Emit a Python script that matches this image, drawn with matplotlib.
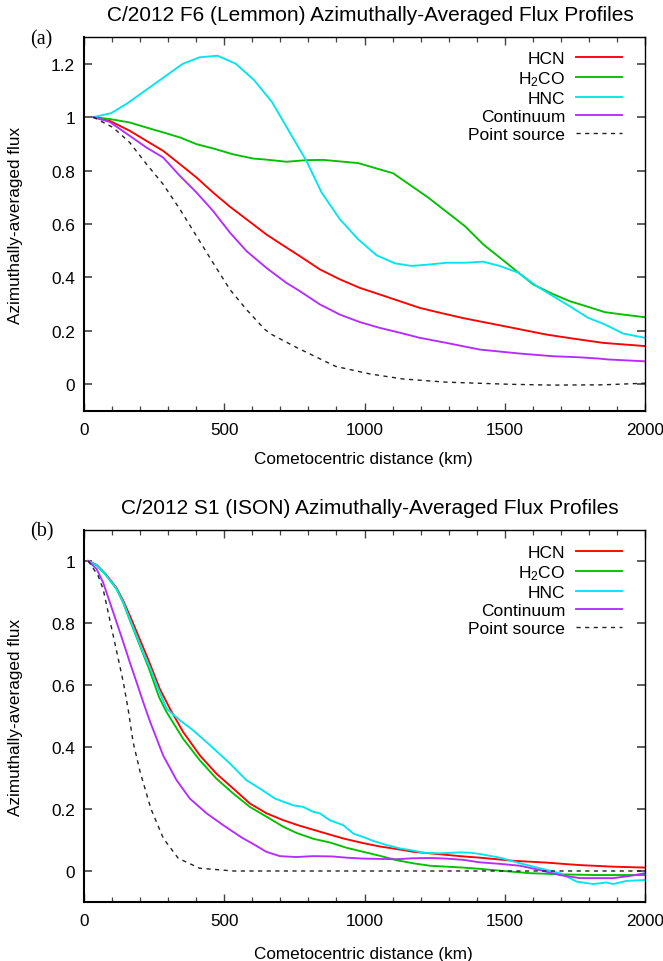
import matplotlib
matplotlib.use('Agg')
import matplotlib.pyplot as plt
from matplotlib.ticker import MultipleLocator, FixedLocator, FuncFormatter

plt.rcParams['font.family'] = ['Liberation Sans', 'DejaVu Sans']
plt.rcParams['mathtext.default'] = 'regular'

# ---------------- data: panel (a) C/2012 F6 (Lemmon) ----------------
hcn_a_km = [33, 92, 163, 223, 282, 342, 401, 460, 520, 579, 650, 698, 769, 841, 912, 983, 1055,
            1126, 1197, 1268, 1351, 1423, 1530, 1649, 1744, 1851, 2000]
hcn_a = [1.0, 0.986, 0.949, 0.911, 0.874, 0.824, 0.774, 0.718, 0.665, 0.618, 0.561, 0.528, 0.48,
         0.43, 0.393, 0.361, 0.336, 0.311, 0.286, 0.268, 0.248, 0.233, 0.211, 0.186, 0.171, 0.155, 0.143]

h2co_a_km = [33, 92, 163, 223, 282, 342, 401, 460, 531, 603, 650, 722, 793, 853, 977, 1102, 1227,
             1358, 1423, 1542, 1601, 1667, 1732, 1791, 1857, 1922, 2000]
h2co_a = [1.0, 0.993, 0.98, 0.961, 0.943, 0.924, 0.899, 0.883, 0.861, 0.845, 0.841, 0.833, 0.839,
          0.84, 0.828, 0.79, 0.699, 0.592, 0.524, 0.424, 0.374, 0.34, 0.311, 0.292, 0.27, 0.261, 0.251]

hnc_a_km = [33, 97, 155, 351, 412, 476, 541, 606, 670, 730, 793, 847, 912, 977, 1043, 1108, 1168,
            1227, 1292, 1358, 1423, 1482, 1548, 1613, 1672, 1732, 1797, 1857, 1922, 2000]
hnc_a = [1.0, 1.015, 1.052, 1.199, 1.224, 1.23, 1.2, 1.139, 1.057, 0.949, 0.836, 0.718, 0.618, 0.543,
         0.483, 0.453, 0.443, 0.448, 0.455, 0.455, 0.459, 0.443, 0.418, 0.368, 0.33, 0.292, 0.249,
         0.224, 0.19, 0.174]

cont_a_km = [33, 92, 163, 223, 282, 342, 401, 460, 520, 579, 650, 721, 769, 841, 912, 983, 1055,
             1126, 1197, 1292, 1411, 1554, 1672, 1767, 1839, 1867, 2000]
cont_a = [1.0, 0.982, 0.93, 0.886, 0.849, 0.78, 0.718, 0.649, 0.568, 0.499, 0.436, 0.38, 0.349, 0.299,
          0.261, 0.233, 0.211, 0.193, 0.174, 0.155, 0.13, 0.115, 0.105, 0.101, 0.096, 0.093, 0.086]

point_a_km = [33, 104, 163, 223, 282, 342, 401, 460, 520, 579, 645, 670, 761, 897, 1018, 1136, 1291,
              1518, 1670, 1850, 2000]
point_a = [1.0, 0.961, 0.905, 0.824, 0.749, 0.655, 0.555, 0.455, 0.355, 0.28, 0.205, 0.186, 0.136,
           0.067, 0.039, 0.02, 0.008, 0.0, -0.003, -0.002, 0.004]

# ---------------- data: panel (b) C/2012 S1 (ISON) ----------------
hcn_b_km = [15, 45, 80, 116, 140, 170, 200, 230, 270, 306, 353, 413, 472, 532, 591, 651, 710, 769,
            829, 924, 995, 1055, 1114, 1173, 1233, 1292, 1352, 1411, 1530, 1649, 1768, 1886, 2000]
hcn_b = [1.0, 0.987, 0.955, 0.913, 0.872, 0.81, 0.745, 0.68, 0.588, 0.524, 0.449, 0.373, 0.314, 0.266,
         0.218, 0.186, 0.164, 0.146, 0.13, 0.105, 0.09, 0.079, 0.071, 0.062, 0.057, 0.052, 0.047,
         0.043, 0.033, 0.027, 0.019, 0.014, 0.011]

h2co_b_km = [15, 45, 80, 116, 140, 163, 187, 211, 232, 268, 294, 353, 413, 472, 532, 591, 651, 710,
             757, 817, 877, 936, 995, 1055, 1114, 1173, 1233, 1292, 1352, 1411, 1483, 1589, 1708,
             1827, 2000]
h2co_b = [1.0, 0.987, 0.953, 0.91, 0.865, 0.81, 0.755, 0.70, 0.652, 0.56, 0.513, 0.427, 0.357, 0.298,
          0.25, 0.207, 0.175, 0.143, 0.123, 0.104, 0.092, 0.075, 0.062, 0.049, 0.035, 0.025, 0.017,
          0.014, 0.011, 0.007, 0.001, -0.007, -0.011, -0.013, -0.013]

hnc_b_km = [15, 45, 80, 116, 140, 163, 187, 211, 237, 259, 282, 294, 342, 389, 449, 520, 579, 627,
            680, 745, 781, 817, 841, 876, 924, 960, 1001, 1031, 1078, 1126, 1173, 1209, 1268, 1340,
            1376, 1411, 1483, 1554, 1625, 1696, 1756, 1815, 1863, 1886, 1934, 2000]
hnc_b = [1.0, 0.987, 0.953, 0.91, 0.867, 0.813, 0.76, 0.705, 0.652, 0.60, 0.55, 0.524, 0.486, 0.454,
         0.406, 0.347, 0.293, 0.266, 0.234, 0.212, 0.207, 0.191, 0.186, 0.164, 0.148, 0.121, 0.108,
         0.097, 0.084, 0.073, 0.066, 0.059, 0.057, 0.06, 0.059, 0.055, 0.043, 0.025, 0.009, -0.007,
         -0.034, -0.042, -0.037, -0.042, -0.032, -0.029]

cont_b_km = [15, 45, 68, 92, 116, 140, 163, 187, 211, 235, 282, 330, 377, 437, 496, 562, 609, 650,
             698, 757, 817, 884, 936, 995, 1055, 1114, 1173, 1233, 1292, 1352, 1411, 1483, 1554, 1625,
             1696, 1768, 1886, 1946, 2000]
cont_b = [1.0, 0.974, 0.931, 0.867, 0.803, 0.738, 0.674, 0.61, 0.545, 0.483, 0.373, 0.293, 0.234,
          0.186, 0.148, 0.108, 0.084, 0.062, 0.048, 0.045, 0.048, 0.047, 0.043, 0.04, 0.039, 0.038,
          0.041, 0.042, 0.04, 0.036, 0.028, 0.023, 0.017, 0.003, -0.013, -0.023, -0.023, -0.016, -0.007]

point_b_km = [15, 50, 68, 86, 104, 122, 140, 157, 175, 200, 238, 283, 336, 412, 533, 1000, 1500, 2000]
point_b = [1.0, 0.953, 0.91, 0.835, 0.76, 0.685, 0.61, 0.524, 0.416, 0.32, 0.202, 0.105, 0.041,
           0.009, 0.0, 0.0, 0.0, 0.0]

labels = ['HCN', 'H$_2$CO', 'HNC', 'Continuum', 'Point source']
colors = ['#ff0000', '#00c000', '#00e5ee', '#b42cff', '#222222']
titles = ['C/2012 F6 (Lemmon) Azimuthally-Averaged Flux Profiles',
          'C/2012 S1 (ISON) Azimuthally-Averaged Flux Profiles']
panel_tags = ['(a)', '(b)']
xlabel = 'Cometocentric distance (km)'
ylabel = 'Azimuthally-averaged flux'

panels = [
    dict(series=[(hcn_a_km, hcn_a), (h2co_a_km, h2co_a), (hnc_a_km, hnc_a),
                 (cont_a_km, cont_a), (point_a_km, point_a)],
         ylim=(-0.1, 1.3), yticks=[0, 0.2, 0.4, 0.6, 0.8, 1.0, 1.2]),
    dict(series=[(hcn_b_km, hcn_b), (h2co_b_km, h2co_b), (hnc_b_km, hnc_b),
                 (cont_b_km, cont_b), (point_b_km, point_b)],
         ylim=(-0.1, 1.1), yticks=[0, 0.2, 0.4, 0.6, 0.8, 1.0]),
]

W, H = 663, 962
fig = plt.figure(figsize=(W / 100, H / 100), dpi=100)


def rect(l, t, r, b):
    return [l / W, 1 - b / H, (r - l) / W, (b - t) / H]


boxes = [(84, 38, 645, 412), (84, 531, 645, 903)]
title_y = [15.5, 508]
tag_y = [39.5, 532]
xlabel_y = [460, 955]
legend_top = [0.9628, 0.960]

for i, p in enumerate(panels):
    l, t, r, b = boxes[i]
    ax = fig.add_axes(rect(l, t, r, b))
    for j, (xs, ys) in enumerate(p['series']):
        if j == 4:
            ax.plot(xs, ys, color=colors[j], lw=1.0, dashes=(3, 3.2), label=labels[j])
        else:
            ax.plot(xs, ys, color=colors[j], lw=1.35, label=labels[j])
    ax.set_xlim(0, 2000)
    ax.set_ylim(*p['ylim'])
    ax.xaxis.set_major_locator(MultipleLocator(500))
    ax.xaxis.set_minor_locator(MultipleLocator(100))
    ax.yaxis.set_major_locator(FixedLocator(p['yticks']))
    ax.yaxis.set_major_formatter(FuncFormatter(lambda v, pos: '%g' % round(v, 3)))
    ax.tick_params(axis='both', which='both', direction='in', top=True, right=True,
                   color='#444444')
    ax.tick_params(axis='x', which='major', length=6, width=1.0, labelsize=12.3, pad=8)
    ax.tick_params(axis='x', which='minor', length=3.5, width=0.9)
    ax.tick_params(axis='y', which='major', length=6, width=1.2, labelsize=12.4, pad=6.5)
    for s in ['left', 'bottom']:
        ax.spines[s].set_linewidth(1.5)
    for s in ['top', 'right']:
        ax.spines[s].set_linewidth(1.0)
    ax.legend(loc='upper right', bbox_to_anchor=(0.9585, legend_top[i]), frameon=False,
              markerfirst=False, fontsize=12.5, handlelength=2.63, handletextpad=0.63,
              labelspacing=0.17, borderpad=0, borderaxespad=0)
    fig.text(370 / W, 1 - title_y[i] / H, titles[i], ha='center', va='center', fontsize=15)
    fig.text(41.5 / W, 1 - tag_y[i] / H, panel_tags[i], ha='center', va='center', fontsize=14.5,
             family=['Liberation Serif', 'DejaVu Serif'])
    fig.text(363 / W, 1 - xlabel_y[i] / H, xlabel, ha='center', va='center', fontsize=12.3)
    fig.text(16 / W, 1 - ((t + b) / 2) / H, ylabel, ha='center', va='center', fontsize=12.3,
             rotation=90)

fig.savefig('out.png', dpi=100)
